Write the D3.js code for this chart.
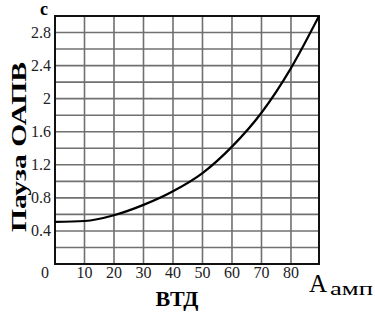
<!DOCTYPE html>
<html>
<head>
<meta charset="utf-8">
<script src="https://cdn.jsdelivr.net/npm/d3@7"></script>
<style>
  body { margin: 0; background: #fff; }
  svg { display: block; }
  svg text { font-family: "Liberation Serif", "DejaVu Serif", "Times New Roman", serif; }
</style>
</head>
<body>
<svg id="chart" width="375" height="313"></svg>
<script>
// current values (A) and pause readings (s)
const currentA = [0, 10, 20, 30, 40, 50, 60, 70, 80, 89.5];
const pauseS = [0.51, 0.52, 0.59, 0.715, 0.88, 1.1, 1.42, 1.83, 2.37, 3.0];
const xTicks = [10, 20, 30, 40, 50, 60, 70, 80];
const yTicks = [0.4, 0.8, 1.2, 1.6, 2, 2.4, 2.8];
const yGrid = [0.2, 0.4, 0.6, 0.8, 1.0, 1.2, 1.4, 1.6, 1.8, 2.0, 2.2, 2.4, 2.6, 2.8];

const svg = d3.select("#chart");
const plotL = 55, plotR = 319, plotT = 16, plotB = 264;

const x = d3.scaleLinear().domain([0, 89.5]).range([plotL, plotR]);
const y = d3.scaleLinear().domain([0, 3]).range([plotB, plotT]);

// grid
svg.append("g")
  .selectAll("line")
  .data(xTicks)
  .join("line")
  .attr("x1", d => x(d)).attr("x2", d => x(d))
  .attr("y1", plotT).attr("y2", plotB)
  .attr("stroke", "#707070")
  .attr("stroke-width", 1.6);

svg.append("g")
  .selectAll("line")
  .data(yGrid)
  .join("line")
  .attr("x1", plotL).attr("x2", plotR)
  .attr("y1", d => y(d)).attr("y2", d => y(d))
  .attr("stroke", "#707070")
  .attr("stroke-width", 1.6);

// frame
svg.append("rect")
  .attr("x", plotL).attr("y", plotT)
  .attr("width", plotR - plotL).attr("height", plotB - plotT)
  .attr("fill", "none")
  .attr("stroke", "#111")
  .attr("stroke-width", 2);

// curve
const line = d3.line()
  .x((d, i) => x(currentA[i]))
  .y(d => y(d))
  .curve(d3.curveMonotoneX);

svg.append("path")
  .datum(pauseS)
  .attr("d", line)
  .attr("fill", "none")
  .attr("stroke", "#000")
  .attr("stroke-width", 2.2);

// tick labels
svg.append("g")
  .selectAll("text")
  .data(xTicks)
  .join("text")
  .attr("x", d => x(d))
  .attr("y", 278)
  .attr("text-anchor", "middle")
  .attr("font-size", 16)
  .attr("fill", "#222")
  .text(d => d);

svg.append("g")
  .selectAll("text")
  .data(yTicks)
  .join("text")
  .attr("x", 51)
  .attr("y", d => y(d) + 5)
  .attr("text-anchor", "end")
  .attr("font-size", 16)
  .attr("fill", "#222")
  .text(d => d);

svg.append("text")
  .attr("x", 45).attr("y", 278)
  .attr("text-anchor", "middle")
  .attr("font-size", 16)
  .attr("fill", "#222")
  .text("0");

// axis titles
svg.append("text")
  .attr("x", 44).attr("y", 15)
  .attr("text-anchor", "middle")
  .attr("font-size", 18)
  .attr("font-weight", "bold")
  .text("c");

svg.append("text")
  .attr("transform", "translate(26,147) rotate(-90)")
  .attr("text-anchor", "middle")
  .attr("font-size", 22)
  .attr("font-weight", "bold")
  .attr("textLength", 170)
  .attr("lengthAdjust", "spacingAndGlyphs")
  .text("Пауза ОАПВ");

svg.append("text")
  .attr("x", 177).attr("y", 306)
  .attr("text-anchor", "middle")
  .attr("font-size", 22)
  .attr("font-weight", "bold")
  .text("ВТД");

svg.append("text")
  .attr("x", 309).attr("y", 292)
  .attr("font-size", 25)
  .text("А");

svg.append("text")
  .attr("x", 330).attr("y", 295)
  .attr("font-size", 19)
  .attr("textLength", 43)
  .attr("lengthAdjust", "spacingAndGlyphs")
  .text("амп");
</script>
</body>
</html>
